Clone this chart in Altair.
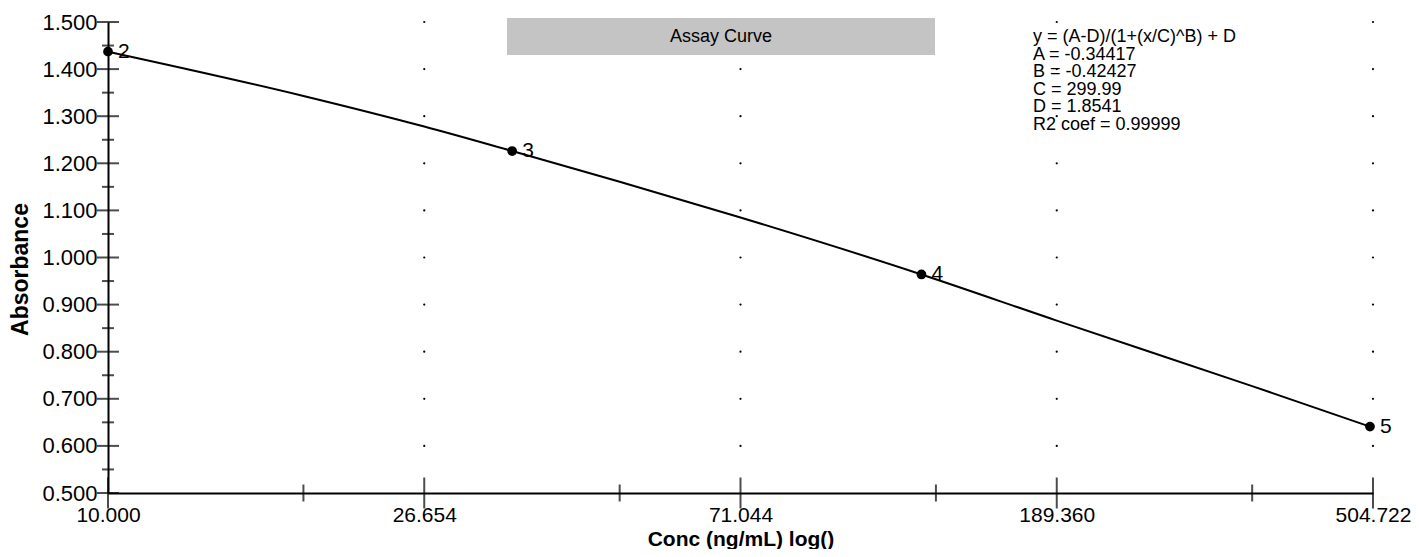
import altair as alt
import pandas as pd

# ---- data ----
std_ids = ["2", "3", "4", "5"]
std_conc = [10.0, 35.0, 124.5, 500.0]
std_abs = [1.437, 1.226, 0.964, 0.641]

curve_conc = [10.0, 18.33, 26.654, 35.0, 48.85, 71.044, 124.5, 189.36, 347.0, 500.0]
curve_abs = [1.437, 1.343, 1.278, 1.226, 1.161, 1.085, 0.964, 0.866, 0.727, 0.641]

x_major = [10.0, 26.654, 71.044, 189.360, 504.722]
x_minor = [18.327, 48.849, 130.202, 347.041]
y_major = [0.5, 0.6, 0.7, 0.8, 0.9, 1.0, 1.1, 1.2, 1.3, 1.4, 1.5]
y_minor = [0.55, 0.65, 0.75, 0.85, 0.95, 1.05, 1.15, 1.25, 1.35, 1.45]

eq_lines = ["y = (A-D)/(1+(x/C)^B) + D", "A = -0.34417", "B = -0.42427",
            "C = 299.99", "D = 1.8541", "R2 coef = 0.99999"]
title_text = "Assay Curve"
x_title = "Conc (ng/mL) log()"
y_title = "Absorbance"

FONT = "Liberation Sans"
W, H = 1265, 471

xs = alt.Scale(type="log", domain=[x_major[0], x_major[-1]], nice=False)
ys = alt.Scale(domain=[y_major[0], y_major[-1]], nice=False)

pts = pd.DataFrame({"conc": std_conc, "abs": std_abs, "id": std_ids})
curve = pd.DataFrame({"conc": curve_conc, "abs": curve_abs})
grid = pd.DataFrame([(x, y) for x in x_major[1:] for y in y_major[1:]], columns=["conc", "abs"])
xt = pd.DataFrame({"conc": x_major + x_minor, "major": [1] * len(x_major) + [0] * len(x_minor)})
yt = pd.DataFrame({"abs": y_major + y_minor, "major": [1] * len(y_major) + [0] * len(y_minor)})
one = pd.DataFrame({"k": [0]})

x_axis = alt.Axis(values=x_major, format=".3f", ticks=False, tickSize=0, grid=False,
                  domainColor="black", domainWidth=2, labelFont=FONT, labelFontSize=21,
                  labelColor="black", labelPadding=11, labelOverlap=False, labelFlush=False,
                  title=x_title, titleFont=FONT, titleFontSize=21, titleFontWeight="bold",
                  titleColor="black", titleBaseline="alphabetic", titleY=52)
y_axis = alt.Axis(values=y_major, format=".3f", ticks=False, tickSize=0, grid=False,
                  domainColor="black", domainWidth=2, labelFont=FONT, labelFontSize=22,
                  labelColor="black", labelPadding=11, labelOverlap=False, labelFlush=False,
                  title=y_title, titleFont=FONT, titleFontSize=23, titleFontWeight="bold",
                  titleColor="black", titlePadding=9, titleY=247)


def X():
    return alt.X("conc:Q", scale=xs, axis=x_axis)


def Y():
    return alt.Y("abs:Q", scale=ys, axis=y_axis)


line = alt.Chart(curve).mark_line(color="black", strokeWidth=2, interpolate="monotone").encode(x=X(), y=Y())

dots = alt.Chart(grid).mark_circle(size=5, color="black", opacity=1).encode(x=X(), y=Y())

xticks_major = alt.Chart(xt[xt.major == 1]).mark_tick(orient="vertical", size=31, thickness=2, color="black").encode(
    x=X(), y=alt.value(H))
xticks_minor = alt.Chart(xt[xt.major == 0]).mark_tick(orient="vertical", size=17, thickness=2, color="black").encode(
    x=X(), y=alt.value(H))
yticks_major = alt.Chart(yt[yt.major == 1]).mark_tick(orient="horizontal", size=22, thickness=2, color="black").encode(
    y=Y(), x=alt.value(0))
yticks_minor = alt.Chart(yt[yt.major == 0]).mark_tick(orient="horizontal", size=12, thickness=2, color="black").encode(
    y=Y(), x=alt.value(0))

points = alt.Chart(pts).mark_circle(size=95, color="black", opacity=1).encode(x=X(), y=Y())
labels = alt.Chart(pts).mark_text(align="left", baseline="middle", dx=10, font=FONT, fontSize=21, color="black").encode(
    x=X(), y=Y(), text="id:N")

title_box = alt.Chart(one).mark_rect(color="#c4c4c4").encode(
    x=alt.value(399), x2=alt.value(827), y=alt.value(-4), y2=alt.value(33))
title_lbl = alt.Chart(one).mark_text(text=title_text, font=FONT, fontSize=18, color="black",
                                     align="center", baseline="middle").encode(
    x=alt.value(613), y=alt.value(15))

eq = alt.Chart(one).mark_text(text=eq_lines, font=FONT, fontSize=18, lineHeight=17.6, color="black",
                              align="left", baseline="top").encode(
    x=alt.value(925), y=alt.value(6))

chart = alt.layer(
    dots, line, xticks_major, xticks_minor, yticks_major, yticks_minor,
    points, labels, title_box, title_lbl, eq
).properties(
    width=W, height=H,
    autosize=alt.AutoSizeParams(type="none"),
    padding={"left": 100, "top": 14, "right": 38, "bottom": 56},
    background="white",
).configure_view(stroke=None)

chart.save("out.html", embed_options={"renderer": "svg", "actions": False})
